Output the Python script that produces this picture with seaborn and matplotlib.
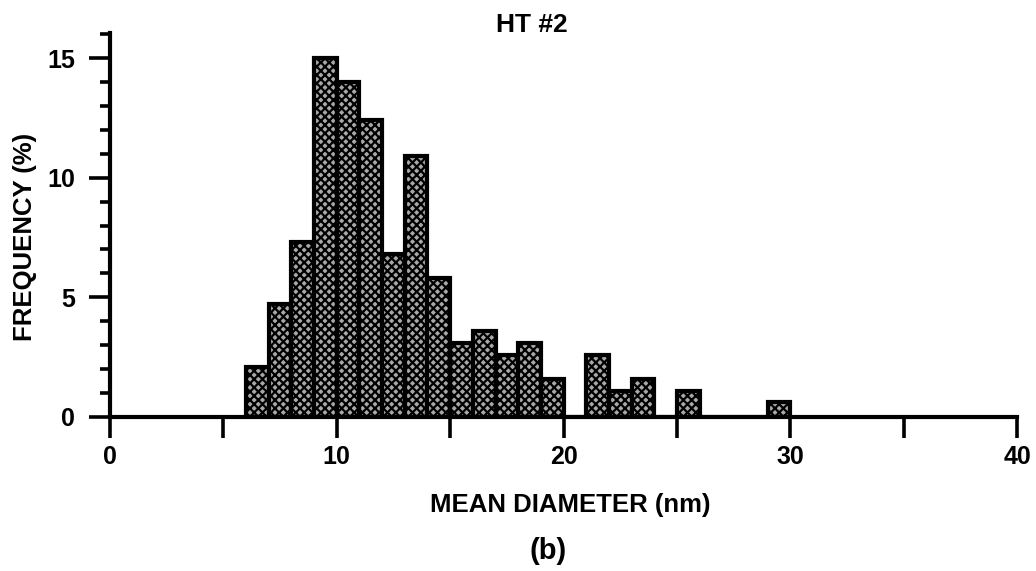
import numpy as np
import seaborn as sns
import matplotlib.pyplot as plt
from matplotlib.ticker import MultipleLocator

# histogram bins (nm) and frequency (%)
bin_left = [6, 7, 8, 9, 10, 11, 12, 13, 14, 15, 16, 17, 18, 19,
            20, 21, 22, 23, 24, 25, 26, 27, 28, 29]
freq = [2.1, 4.7, 7.3, 15.0, 14.0, 12.4, 6.8, 10.9, 5.8, 3.1, 3.6, 2.6, 3.1, 1.6,
        0.0, 2.6, 1.1, 1.6, 0.0, 1.1, 0.0, 0.0, 0.0, 0.6]
x_ticks = [0, 5, 10, 15, 20, 25, 30, 35, 40]
x_ticklabels = ["0", "", "10", "", "20", "", "30", "", "40"]
y_ticks = [0, 5, 10, 15]

sns.set_theme(style="ticks")
plt.rcParams["font.family"] = ["Liberation Sans", "DejaVu Sans"]
plt.rcParams["font.weight"] = "bold"
plt.rcParams["text.color"] = "black"
plt.rcParams["axes.labelcolor"] = "black"
plt.rcParams["hatch.linewidth"] = 1.6

fig = plt.figure(figsize=(10.36, 5.71), dpi=100)
ax = fig.add_axes([0.106, 0.270, 0.876, 0.672])

centers = [b + 0.5 for b in bin_left]
edges = bin_left + [bin_left[-1] + 1]
sns.histplot(x=centers, weights=freq, bins=edges, ax=ax,
             color="#a8a8a8", alpha=1, edgecolor="black", linewidth=3,
             hatch="xxxx")

ax.set_xlim(0, 40)
ax.set_ylim(0, 16.05)
ax.set_xticks(x_ticks)
ax.set_xticklabels(x_ticklabels)
ax.set_yticks(y_ticks)
ax.yaxis.set_minor_locator(MultipleLocator(1))
ax.tick_params(axis="both", which="major", length=15, width=2.6,
               labelsize=18, pad=5, color="black", labelcolor="black")
ax.tick_params(axis="y", which="major", pad=10)
ax.tick_params(axis="y", which="minor", length=7, width=2.6, color="black")
for lab in ax.get_xticklabels() + ax.get_yticklabels():
    lab.set_fontweight("bold")

for side in ["top", "right"]:
    ax.spines[side].set_visible(False)
for side in ["left", "bottom"]:
    ax.spines[side].set_linewidth(3)
    ax.spines[side].set_color("black")

ax.set_xlabel("")
ax.set_ylabel("")

fig.text(0.024, 0.585, "FREQUENCY (%)", rotation=90, ha="center", va="center",
         fontsize=18.5, fontweight="bold")
fig.text(0.513, 0.956, "HT #2", ha="center", va="center", fontsize=19, fontweight="bold")
fig.text(0.55, 0.116, "MEAN DIAMETER (nm)", ha="center", va="center", fontsize=18.5, fontweight="bold")
fig.text(0.529, 0.035, "(b)", ha="center", va="center", fontsize=21, fontweight="bold")

fig.savefig("out.png", dpi=100)
